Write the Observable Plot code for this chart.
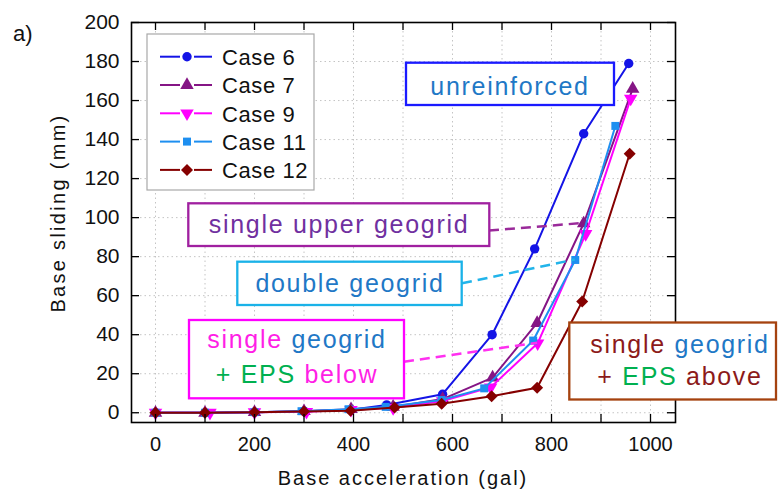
<!DOCTYPE html>
<html><head><meta charset="utf-8">
<script src="https://cdn.jsdelivr.net/npm/d3@7"></script>
<script src="https://cdn.jsdelivr.net/npm/@observablehq/plot@0.6"></script>
<style>body{margin:0;background:#fff;} svg{display:block}</style>
</head><body><div id="chart"></div>
<script>
// ---- data ----
const caseNames = ["Case 6", "Case 7", "Case 9", "Case 11", "Case 12"];
const accel6  = [0, 100, 200, 300, 395, 467, 580, 680, 766, 865, 956];
const slide6  = [0, 0, 0.3, 0.8, 1.5, 4, 9.5, 40, 84, 143, 179];
const accel7  = [0, 100, 200, 300, 395, 480, 580, 681, 771, 865, 964];
const slide7  = [0, 0, 0.3, 0.8, 1.8, 3, 7, 18, 46, 97, 166];
const accel9  = [0, 110, 200, 305, 395, 480, 580, 677, 772, 869, 960];
const slide9  = [0, 0, 0.3, 0.5, 1.5, 2.5, 6, 13, 35.6, 91.6, 161];
const accel11 = [0, 100, 200, 295, 390, 465, 578, 664, 763, 848, 929];
const slide11 = [0, 0, 0.3, 0.8, 1.8, 3, 6.5, 12.5, 37, 78.3, 147];
const accel12 = [0, 100, 200, 300, 394, 483, 578, 679, 771, 862, 958];
const slide12 = [0, 0, 0.3, 0.6, 1, 2.7, 4.6, 8.5, 12.8, 57, 132.7];
const xTickLabels = [0, 200, 400, 600, 800, 1000];
const xTicks = [0, 100, 200, 300, 400, 500, 600, 700, 800, 900, 1000];
const yTicks = [0, 20, 40, 60, 80, 100, 120, 140, 160, 180, 200];

// ---- styles ----
const seriesStyle = {
  "Case 6":  {color: "#1414e6", symbol: "circle",   r: 4.7, rotate: 0},
  "Case 7":  {color: "#851585", symbol: "triangle", r: 5.0, rotate: 0},
  "Case 9":  {color: "#ff00ff", symbol: "triangle", r: 5.0, rotate: 180},
  "Case 11": {color: "#1e8ff0", symbol: "square",   r: 4.5, rotate: 0},
  "Case 12": {color: "#850000", symbol: "diamond2", r: 5.4, rotate: 0}
};
const seriesData = {
  "Case 6": [accel6, slide6], "Case 7": [accel7, slide7], "Case 9": [accel9, slide9],
  "Case 11": [accel11, slide11], "Case 12": [accel12, slide12]
};
const rows = caseNames.flatMap(c => seriesData[c][0].map((a, i) => ({series: c, accel: a, slide: seriesData[c][1][i]})));

const W = 779, H = 497, mL = 131, mR = 104, mT = 22, mB = 75;
const innerW = W - mL - mR, innerH = H - mT - mB, tk = 8;
const FONT = "'Liberation Sans', Arial, sans-serif";

const seriesMarks = caseNames.flatMap(c => {
  const s = seriesStyle[c];
  const d = rows.filter(r => r.series === c);
  return [
    Plot.line(d, {x: "accel", y: "slide", stroke: s.color, strokeWidth: 2}),
    Plot.dot(d, {x: "accel", y: "slide", fill: s.color, stroke: "none", symbol: s.symbol, r: s.r, rotate: s.rotate})
  ];
});

const chart = Plot.plot({
  width: W, height: H, marginLeft: mL, marginRight: mR, marginTop: mT, marginBottom: mB,
  x: {domain: [-48.5, 1050.5]},
  y: {domain: [-5, 200]},
  style: {fontFamily: FONT, background: "#fff", color: "#000"},
  marks: [
    Plot.ruleX(xTicks, {x: d => d, stroke: "#c4c4c4", strokeWidth: 1, strokeDasharray: "1.5,3"}),
    Plot.ruleY(yTicks, {y: d => d, stroke: "#c4c4c4", strokeWidth: 1, strokeDasharray: "1.5,3"}),
    ...seriesMarks,
    Plot.ruleX(xTicks, {x: d => d, insetTop: innerH - tk, stroke: "#000", strokeWidth: 1.3}),
    Plot.ruleX(xTicks, {x: d => d, insetBottom: innerH - tk, stroke: "#000", strokeWidth: 1.3}),
    Plot.ruleY(yTicks, {y: d => d, insetRight: innerW - tk, stroke: "#000", strokeWidth: 1.3}),
    Plot.ruleY(yTicks, {y: d => d, insetLeft: innerW - tk, stroke: "#000", strokeWidth: 1.3}),
    Plot.frame({stroke: "#000", strokeWidth: 1.6}),
    Plot.axisX({ticks: xTickLabels, tickFormat: d => String(d), tickSize: 0, tickPadding: 14, fontSize: 20, label: null, fill: "#111"}),
    Plot.axisY({ticks: yTicks, tickFormat: d => String(d), tickSize: 0, tickPadding: 12, fontSize: 21, label: null, fill: "#111"})
  ]
});
document.getElementById("chart").appendChild(chart);

// ---- overlay: titles, legend, annotations ----
const sx = chart.scale("x"), sy = chart.scale("y");
const svg = d3.select(chart);
const g = svg.append("g").attr("font-family", FONT).attr("text-anchor", "start");

g.append("text").attr("x", 13).attr("y", 41).attr("font-size", 22).attr("fill", "#111").text("a)");
g.append("text").attr("x", 403).attr("y", 485).attr("text-anchor", "middle")
  .attr("font-size", 20).attr("letter-spacing", 2).attr("fill", "#111").text("Base acceleration (gal)");
g.append("text").attr("transform", "translate(65,213) rotate(-90)").attr("text-anchor", "middle")
  .attr("font-size", 20).attr("letter-spacing", 2.3).attr("fill", "#111").text("Base sliding (mm)");

// legend
g.append("rect").attr("x", 147).attr("y", 34).attr("width", 167).attr("height", 156)
  .attr("fill", "#fff").attr("stroke", "#a8a8a8").attr("stroke-width", 1.2);
const symMap = {circle: d3.symbolCircle, triangle: d3.symbolTriangle, square: d3.symbolSquare, diamond2: d3.symbolDiamond2};
caseNames.forEach((c, i) => {
  const s = seriesStyle[c];
  const cy = 56.7 + i * 28.3;
  g.append("line").attr("x1", 160).attr("x2", 180).attr("y1", cy).attr("y2", cy).attr("stroke", s.color).attr("stroke-width", 2);
  g.append("line").attr("x1", 194).attr("x2", 212).attr("y1", cy).attr("y2", cy).attr("stroke", s.color).attr("stroke-width", 2);
  g.append("path").attr("d", d3.symbol(symMap[s.symbol], Math.PI * s.r * s.r)())
    .attr("transform", `translate(187,${cy}) rotate(${s.rotate})`).attr("fill", s.color);
  g.append("text").attr("x", 222).attr("y", cy + 8.3).attr("text-anchor", "start").attr("font-size", 22).attr("letter-spacing", 0.6)
    .attr("fill", "#111").text(c);
});

// leader lines (to data points)
function leader(x0, y0, a, v, color) {
  g.append("line").attr("x1", x0).attr("y1", y0).attr("x2", sx.apply(a)).attr("y2", sy.apply(v))
    .attr("stroke", color).attr("stroke-width", 2.5).attr("stroke-dasharray", "10,6");
}
leader(489, 230.5, accel7[9], slide7[9], "#9a2a9a");
leader(462, 283.3, accel11[9], slide11[9], "#22b4ea");
leader(404, 361.7, accel9[8], slide9[8], "#ff30f0");

function box(x0, y0, x1, y1, color) {
  g.append("rect").attr("x", x0).attr("y", y0).attr("width", x1 - x0).attr("height", y1 - y0)
    .attr("fill", "#fff").attr("stroke", color).attr("stroke-width", 2.3);
}
function label(cx, y, parts) {
  const t = g.append("text").attr("x", cx).attr("y", y).attr("text-anchor", "middle")
    .attr("font-size", 25).attr("letter-spacing", 1.7);
  parts.forEach(([s, c]) => t.append("tspan").attr("fill", c).text(s));
}
const BLUE = "#1f78c6", GREEN = "#00b050", MAG = "#ff1ee6", DRED = "#8c1a1a";
box(406, 62.7, 614, 105, "#1a1aff");
label(510, 95, [["unreinforced", BLUE]]);
box(188.3, 203.3, 489.3, 246, "#a020a0");
label(339, 233.3, [["single upper geogrid", "#7030a0"]]);
box(237.3, 261.7, 461.7, 305, "#1ab2e8");
label(350, 291.7, [["double geogrid", BLUE]]);
box(189, 320, 404, 398.3, "#ff00ff");
label(297, 348.3, [["single ", MAG], ["geogrid", BLUE]]);
label(297, 383.3, [["+ EPS ", GREEN], ["below", MAG]]);
box(569.3, 322.5, 776, 399.5, "#a5420f");
label(680, 353.3, [["single ", DRED], ["geogrid", BLUE]]);
label(680, 385, [["+ ", DRED], ["EPS ", GREEN], ["above", DRED]]);
</script>
</body></html>
